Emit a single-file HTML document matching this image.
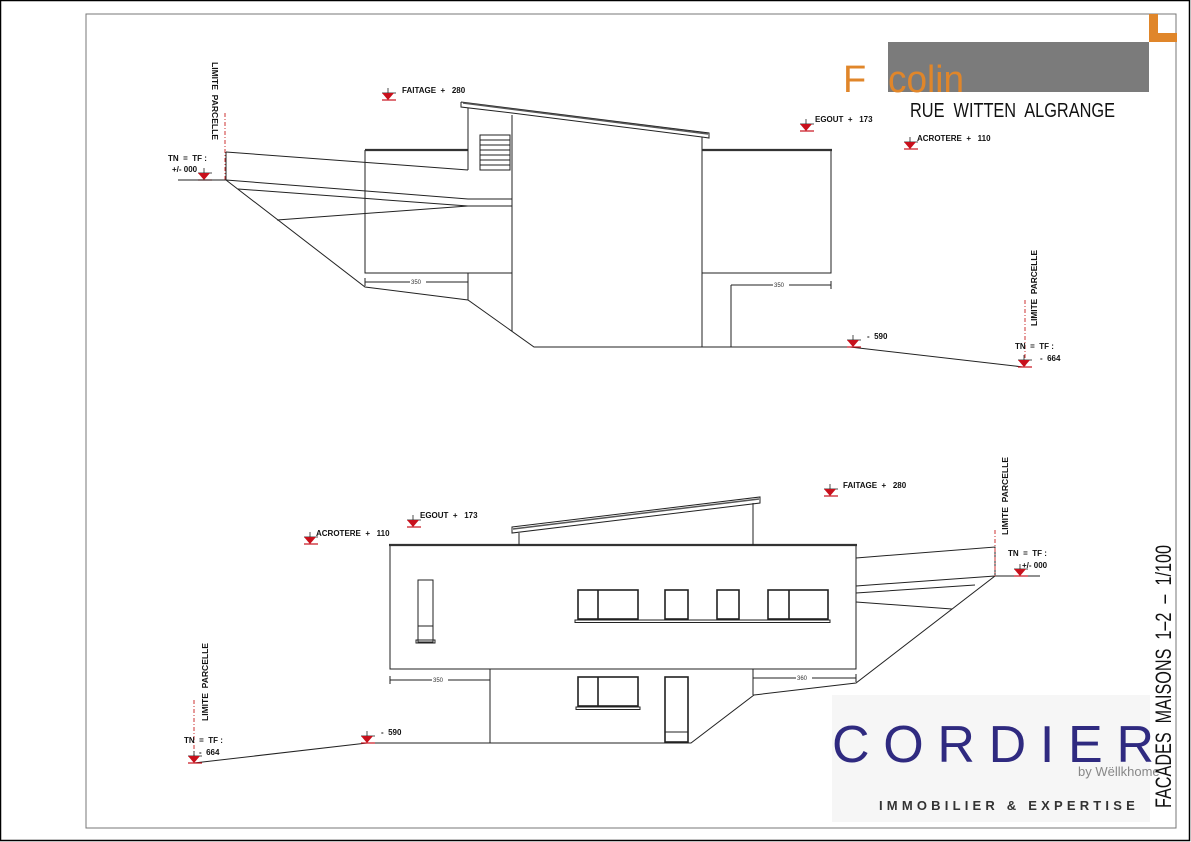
<!DOCTYPE html>
<html><head><meta charset="utf-8"><style>
html,body{margin:0;padding:0;background:#fff;}
svg{display:block;}
text{font-family:"Liberation Sans",sans-serif;white-space:pre;}
.t{font-size:8px;font-weight:bold;fill:#111;}
.l{stroke:#222;stroke-width:1;fill:none;}
.w{stroke:#222;stroke-width:1.6;fill:none;}
.d{stroke:#c33;stroke-width:1;stroke-dasharray:4,2,1,2;}
</style></head><body>
<svg width="1191" height="842" viewBox="0 0 1191 842" xmlns="http://www.w3.org/2000/svg" xml:space="preserve">
<defs>
<g id="m"><line x1="0" y1="-12" x2="0" y2="0" stroke="#222" stroke-width="0.8"/><line x1="-6" y1="-7" x2="8" y2="-7" stroke="#222" stroke-width="0.8"/><polygon points="-6,-7 6,-7 0,0" fill="#c8101c"/><line x1="-6" y1="0" x2="8" y2="0" stroke="#c8101c" stroke-width="1.2"/></g>
</defs>
<rect x="0.5" y="0.5" width="1189" height="840" fill="#fff" stroke="#000" stroke-width="1.5"/>
<rect x="86" y="14" width="1090" height="814" fill="none" stroke="#777" stroke-width="1"/>

<rect x="888" y="42" width="261" height="50" fill="#7b7b7b"/>
<path d="M1149 14 H1158 V33 H1177 V42 H1149 Z" fill="#e0862a"/>
<text x="843" y="92" font-size="38" fill="#e0862a">F</text>
<text x="888" y="92" font-size="38" fill="#e0862a" textLength="76" lengthAdjust="spacingAndGlyphs">colin</text>
<text x="910" y="117" font-size="20" fill="#111" textLength="205" lengthAdjust="spacingAndGlyphs">RUE  WITTEN  ALGRANGE</text>

<g>
<text class="t" transform="translate(212,62) rotate(90)" font-size="9" textLength="78" lengthAdjust="spacingAndGlyphs">LIMITE  PARCELLE</text>
<line class="d" x1="225" y1="113" x2="225" y2="180"/>
<text class="t" x="168" y="161">TN  =  TF :</text>
<text class="t" x="172" y="172">+/- 000</text>
<use href="#m" x="204" y="180"/>
<line class="l" x1="178" y1="180" x2="226" y2="180"/>
<path class="l" d="M226 152 L468 170 M226 180 L468 199 L512 199 M238 189 L468 206 L512 206 M277 220 L468 206"/>
<path class="l" d="M226 180 L365 287 L468 300 L534 347 L850 347 L1023 367"/>
<line class="l" x1="226" y1="152" x2="226" y2="180"/>
<path class="l" d="M365 150 V273 H512 M468 150 V170"/>
<line x1="365" y1="150" x2="468" y2="150" stroke="#333" stroke-width="2.2"/>
<path class="l" d="M468 273 V300"/>
<path class="l" d="M468 108 V170 M512 115 V331"/>
<rect x="480" y="135" width="30" height="35" class="l"/>
<path class="l" d="M480 140H510M480 145H510M480 150H510M480 155H510M480 160H510M480 165H510"/>
<path class="l" d="M461 102 L709 133 L709 138 L702 137 M461 102 V107 L512 113 M512 113 L702 137" />
<path d="M463 103 L708 134" stroke="#555" stroke-width="1.5"/>
<path class="l" d="M702 137 V347"/>
<path class="l" d="M702 150 H831 V273 H702"/>
<line x1="702" y1="150" x2="832" y2="150" stroke="#333" stroke-width="2.2"/>
<path class="l" d="M365 282 H468 M365 278 V286 M468 278 V286 M731 285 H831 M731 285 V347 M831 281 V289" stroke-width="0.7"/>
<rect x="410" y="278" width="16" height="7" fill="#fff"/><text x="411" y="284" font-size="6" fill="#333">350</text>
<rect x="773" y="281" width="16" height="7" fill="#fff"/><text x="774" y="287" font-size="6" fill="#333">350</text>
<use href="#m" x="388" y="100"/><text class="t" x="402" y="93">FAITAGE  +   280</text>
<use href="#m" x="806" y="131"/><text class="t" x="815" y="122">EGOUT  +   173</text>
<use href="#m" x="910" y="149"/><text class="t" x="917" y="141">ACROTERE  +   110</text>
<use href="#m" x="853" y="347"/><text class="t" x="867" y="339">-  590</text>
<text class="t" transform="translate(1037,326) rotate(-90)" font-size="9" textLength="76" lengthAdjust="spacingAndGlyphs">LIMITE  PARCELLE</text>
<line class="d" x1="1025" y1="300" x2="1025" y2="366"/>
<text class="t" x="1015" y="349">TN  =  TF :</text>
<text class="t" x="1040" y="361">-  664</text>
<use href="#m" x="1024" y="367"/>
</g>

<g>
<rect x="390" y="545" width="466" height="124" class="l"/>
<line x1="389" y1="545" x2="857" y2="545" stroke="#333" stroke-width="2.2"/>
<path class="l" d="M512 527 L760 497 L760 503 L512 533 Z M519 533 V545 M753 503 V545"/>
<path d="M513 529 L759 499" stroke="#555" stroke-width="1.5"/>
<rect x="418" y="580" width="15" height="62" class="l"/>
<path class="l" d="M418 626 H433"/><rect x="416" y="640" width="19" height="3" class="l"/>
<rect x="578" y="590" width="60" height="29" class="w"/><line class="w" x1="598" y1="590" x2="598" y2="619"/>
<rect x="665" y="590" width="23" height="29" class="w"/>
<rect x="717" y="590" width="22" height="29" class="w"/>
<rect x="768" y="590" width="60" height="29" class="w"/><line class="w" x1="789" y1="590" x2="789" y2="619"/>
<rect x="575" y="620" width="255" height="2.5" class="l"/>
<path class="l" d="M490 669 V743 M753 669 V695"/>
<rect x="578" y="677" width="60" height="29" class="w"/><line class="w" x1="598" y1="677" x2="598" y2="706"/>
<rect x="576" y="707" width="64" height="2.5" class="l"/>
<rect x="665" y="677" width="23" height="65" class="w"/><path class="l" d="M665 732 H688"/>
<path class="l" d="M367 743 L691 743 L754 695 L856 683 L995 576 L1040 576"/>
<path class="l" d="M367 743 L194 763"/>
<path class="l" d="M856 558 L995 547 V576 M856 586 L995 576 M856 593 L975 585 M856 602 L952 609"/>
<path class="l" d="M390 680 H490 M390 676 V684 M753 678 H856 M856 674 V682" stroke-width="0.7"/>
<rect x="432" y="676" width="16" height="7" fill="#fff"/><text x="433" y="682" font-size="6" fill="#333">350</text>
<rect x="796" y="674" width="16" height="7" fill="#fff"/><text x="797" y="680" font-size="6" fill="#333">360</text>
<use href="#m" x="310" y="544"/><text class="t" x="316" y="536">ACROTERE  +   110</text>
<use href="#m" x="413" y="527"/><text class="t" x="420" y="518">EGOUT  +   173</text>
<use href="#m" x="830" y="496"/><text class="t" x="843" y="488">FAITAGE  +   280</text>
<use href="#m" x="367" y="743"/><text class="t" x="381" y="735">-  590</text>
<text class="t" transform="translate(208,721) rotate(-90)" font-size="9" textLength="78" lengthAdjust="spacingAndGlyphs">LIMITE  PARCELLE</text>
<line class="d" x1="194" y1="700" x2="194" y2="763"/>
<text class="t" x="184" y="743">TN  =  TF :</text>
<text class="t" x="199" y="755">-  664</text>
<use href="#m" x="194" y="763"/>
<text class="t" transform="translate(1008,535) rotate(-90)" font-size="9" textLength="78" lengthAdjust="spacingAndGlyphs">LIMITE  PARCELLE</text>
<line class="d" x1="995" y1="530" x2="995" y2="576"/>
<text class="t" x="1008" y="556">TN  =  TF :</text>
<text class="t" x="1022" y="568">+/- 000</text>
<use href="#m" x="1020" y="576"/>
</g>

<rect x="832" y="695" width="318" height="127" fill="#f6f6f6"/>
<text x="832" y="762" font-size="52" fill="#2f2a80" textLength="322" lengthAdjust="spacing">CORDIER</text>
<text x="1078" y="776" font-size="13" fill="#888">by Wëllkhome</text>
<text x="879" y="810" font-size="13" font-weight="bold" fill="#333" letter-spacing="4.2">IMMOBILIER &amp; EXPERTISE</text>

<text transform="translate(1171,808) rotate(-90)" font-size="22" fill="#111" textLength="263" lengthAdjust="spacingAndGlyphs">FACADES  MAISONS  1–2  –  1/100</text>
</svg>
</body></html>
